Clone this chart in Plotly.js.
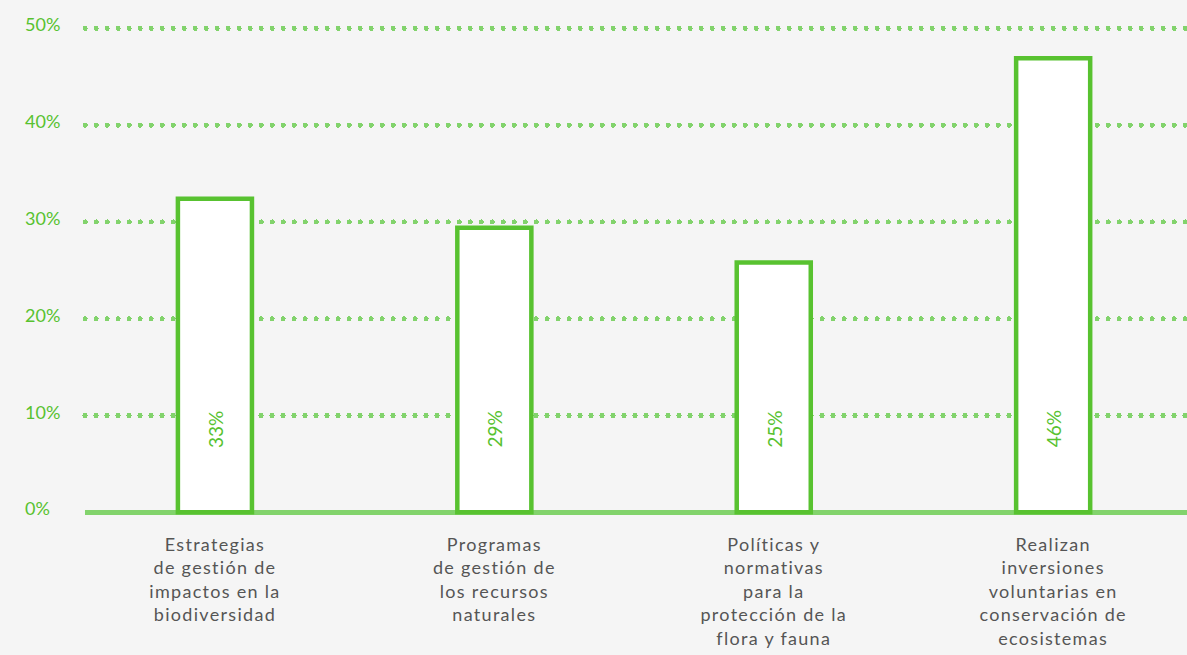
<!DOCTYPE html>
<html>
<head>
<meta charset="utf-8">
<script src="https://cdn.plot.ly/plotly-3.0.1.min.js"></script>
<style>
  html, body { margin: 0; padding: 0; background: #f5f5f5; }
  #chart { width: 1187px; height: 655px; }
  .gridlayer path { stroke-linecap: round; }
  .xtick text { letter-spacing: 1.3px; }
</style>
</head>
<body>
<div id="chart"></div>
<script>
// Categories (x-axis labels)
const categories = [
  "Estrategias<br>de gestión de<br>impactos en la<br>biodiversidad",
  "Programas<br>de gestión de<br>los recursos<br>naturales",
  "Políticas y<br>normativas<br>para la<br>protección de la<br>flora y fauna",
  "Realizan<br>inversiones<br>voluntarias en<br>conservación de<br>ecosistemas"
];
// Bar heights as drawn (percent)
const values = [32.4, 29.4, 25.8, 46.9];
// Labels printed inside the bars
const barLabels = ["33%", "29%", "25%", "46%"];
// Y-axis tick values and labels
const yTickVals = [0, 10, 20, 30, 40, 50];
const yTickText = ["0%", "10%", "20%", "30%", "40%", "50%"];

const GREEN = "#58c230";
const LIGHT_GREEN = "#82d36c";
const FONT = "Lato, 'Open Sans', sans-serif";

const xIdx = categories.map((_, i) => i);

const trace = {
  type: "bar",
  x: xIdx,
  y: values,
  width: 0.265,
  marker: { color: "#ffffff", line: { color: GREEN, width: 4.5 } },
  hoverinfo: "skip"
};

const annotations = [];
barLabels.forEach((t, i) => {
  annotations.push({
    x: xIdx[i], y: 8.6, xref: "x", yref: "y",
    text: t, textangle: -90, showarrow: false,
    font: { family: FONT, size: 19, color: GREEN }
  });
});
yTickVals.forEach((v, i) => {
  annotations.push({
    x: 0, xref: "paper", y: v, yref: "y",
    xanchor: "left", yanchor: "middle",
    xshift: -62, yshift: 4,
    text: yTickText[i], showarrow: false,
    font: { family: FONT, size: 18, color: GREEN }
  });
});

const layout = {
  width: 1187, height: 655,
  margin: { l: 85, r: 0, t: 9, b: 133, pad: 0 },
  paper_bgcolor: "#f5f5f5",
  plot_bgcolor: "#f5f5f5",
  showlegend: false,
  xaxis: {
    type: "linear",
    range: [-0.465, 3.479],
    tickvals: xIdx,
    ticktext: categories,
    showgrid: false,
    zeroline: false,
    showline: false,
    ticks: "",
    ticklabelstandoff: 10,
    tickfont: { family: FONT, size: 18, color: "#555555" },
    fixedrange: true
  },
  yaxis: {
    range: [-1, 52],
    tickvals: yTickVals,
    showticklabels: false,
    showgrid: true,
    gridcolor: LIGHT_GREEN,
    gridwidth: 5,
    griddash: "0.1px,10.9px",
    zeroline: true,
    zerolinecolor: LIGHT_GREEN,
    zerolinewidth: 4.5,
    showline: false,
    ticks: "",
    fixedrange: true
  },
  annotations: annotations
};

Plotly.newPlot("chart", [trace], layout, { displayModeBar: false, staticPlot: true });
</script>
</body>
</html>
